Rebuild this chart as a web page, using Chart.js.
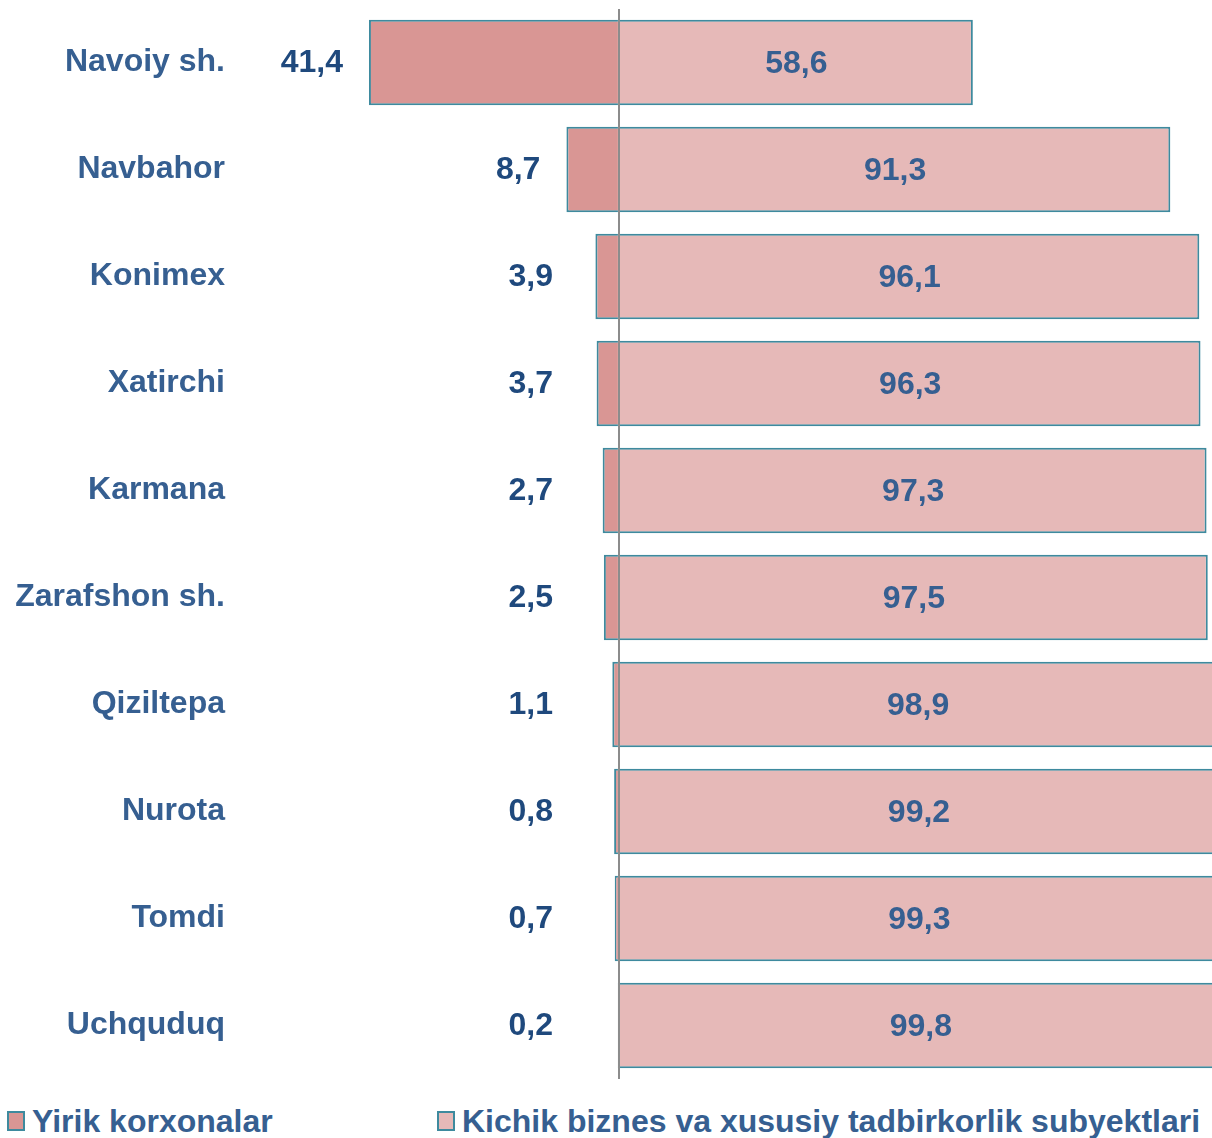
<!DOCTYPE html>
<html>
<head>
<meta charset="utf-8">
<script src="https://cdn.jsdelivr.net/npm/chart.js@4.4.1/dist/chart.umd.min.js"></script>
<style>
  body { margin: 0; background: #fff; font-family: "Liberation Sans", Arial, sans-serif; }
  #wrap { width: 1212px; height: 1084px; position: relative; }
  #legend { width: 1212px; height: 54px; position: relative;
            color: #365F91; font-weight: bold; font-size: 32px; }
  #legend span.item { position: absolute; top: 19px; display: flex; align-items: center; white-space: nowrap; line-height: 36px; }
  #legend span.box { width: 14px; height: 16px; border: 2px solid; margin-right: 7px; display: inline-block; }
</style>
</head>
<body>
<div id="wrap"><canvas id="shareChart"></canvas></div>
<div id="legend"></div>
<script>
const categories = ['Navoiy sh.', 'Navbahor', 'Konimex', 'Xatirchi', 'Karmana', 'Zarafshon sh.', 'Qiziltepa', 'Nurota', 'Tomdi', 'Uchquduq'];
const largeShare = [41.4, 8.7, 3.9, 3.7, 2.7, 2.5, 1.1, 0.8, 0.7, 0.2];
const smallShare = [58.6, 91.3, 96.1, 96.3, 97.3, 97.5, 98.9, 99.2, 99.3, 99.8];
const seriesNames = ['Yirik korxonalar', 'Kichik biznes va xususiy tadbirkorlik subyektlari'];

const textColor = '#365F91';
const fontFamily = '"Liberation Sans", Arial, sans-serif';

const fmt = v => Math.abs(v).toFixed(1).replace('.', ',');

// value labels: left ones sit outside the bar, right ones centred in the bar
const valueLabels = {
  id: 'valueLabels',
  afterDatasetsDraw(chart) {
    const c = chart.ctx;
    c.save();
    c.font = 'bold 32px ' + fontFamily;
    c.textBaseline = 'middle';
    const zero = chart.scales.x.getPixelForValue(0);
    chart.getDatasetMeta(0).data.forEach((bar, i) => {
      c.fillStyle = '#1F497D';
      c.textAlign = 'right';
      c.fillText(fmt(largeShare[i]), Math.min(bar.x - 26, zero - 66), bar.y + 1);
    });
    chart.getDatasetMeta(1).data.forEach((bar, i) => {
      c.fillStyle = textColor;
      c.textAlign = 'center';
      c.fillText(fmt(smallShare[i]), (bar.x + bar.base) / 2, bar.y + 2);
    });
    c.restore();
  }
};

const chart = new Chart(document.getElementById('shareChart'), {
  type: 'bar',
  data: {
    labels: categories,
    datasets: [{
      label: seriesNames[0],
      data: largeShare.map(v => -v),
      backgroundColor: '#D99694',
      borderColor: '#3E8A9E',
      borderWidth: 2,
      borderSkipped: 'start',
      barPercentage: 0.8,
      categoryPercentage: 1
    }, {
      label: seriesNames[1],
      data: smallShare,
      backgroundColor: '#E6B9B8',
      borderColor: '#3E8A9E',
      borderWidth: 2,
      borderSkipped: 'start',
      barPercentage: 0.8,
      categoryPercentage: 1
    }]
  },
  options: {
    indexAxis: 'y',
    responsive: true,
    maintainAspectRatio: false,
    animation: false,
    layout: { padding: { top: 9, left: 0, right: 0, bottom: 5 } },
    scales: {
      x: {
        stacked: true,
        min: -62.75,
        max: 98.2,
        z: 1,
        border: { display: false },
        ticks: { display: false, stepSize: 20 },
        grid: {
          drawTicks: false,
          lineWidth: 2,
          color: ctx => ctx.tick && ctx.tick.value === 0 ? '#8C8C8C' : 'rgba(0,0,0,0)'
        },
        afterFit: scale => { scale.height = 0; }
      },
      y: {
        stacked: true,
        border: { display: false },
        grid: { display: false, drawTicks: false },
        afterFit: scale => {
          scale.width = 240;
          scale.paddingTop = 0;
          scale.paddingBottom = 0;
        },
        ticks: {
          color: textColor,
          padding: 15,
          font: { family: fontFamily, size: 32, weight: 'bold' }
        }
      }
    },
    plugins: {
      tooltip: { enabled: false },
      legend: { display: false }
    }
  },
  plugins: [valueLabels]
});

// legend built from the chart's datasets
const legendEl = document.getElementById('legend');
const legendLeft = [7, 437];
chart.data.datasets.forEach((ds, i) => {
  const item = document.createElement('span');
  item.className = 'item';
  item.style.left = legendLeft[i] + 'px';
  const box = document.createElement('span');
  box.className = 'box';
  box.style.background = ds.backgroundColor;
  box.style.borderColor = ds.borderColor;
  item.appendChild(box);
  item.appendChild(document.createTextNode(ds.label));
  legendEl.appendChild(item);
});
</script>
</body>
</html>
